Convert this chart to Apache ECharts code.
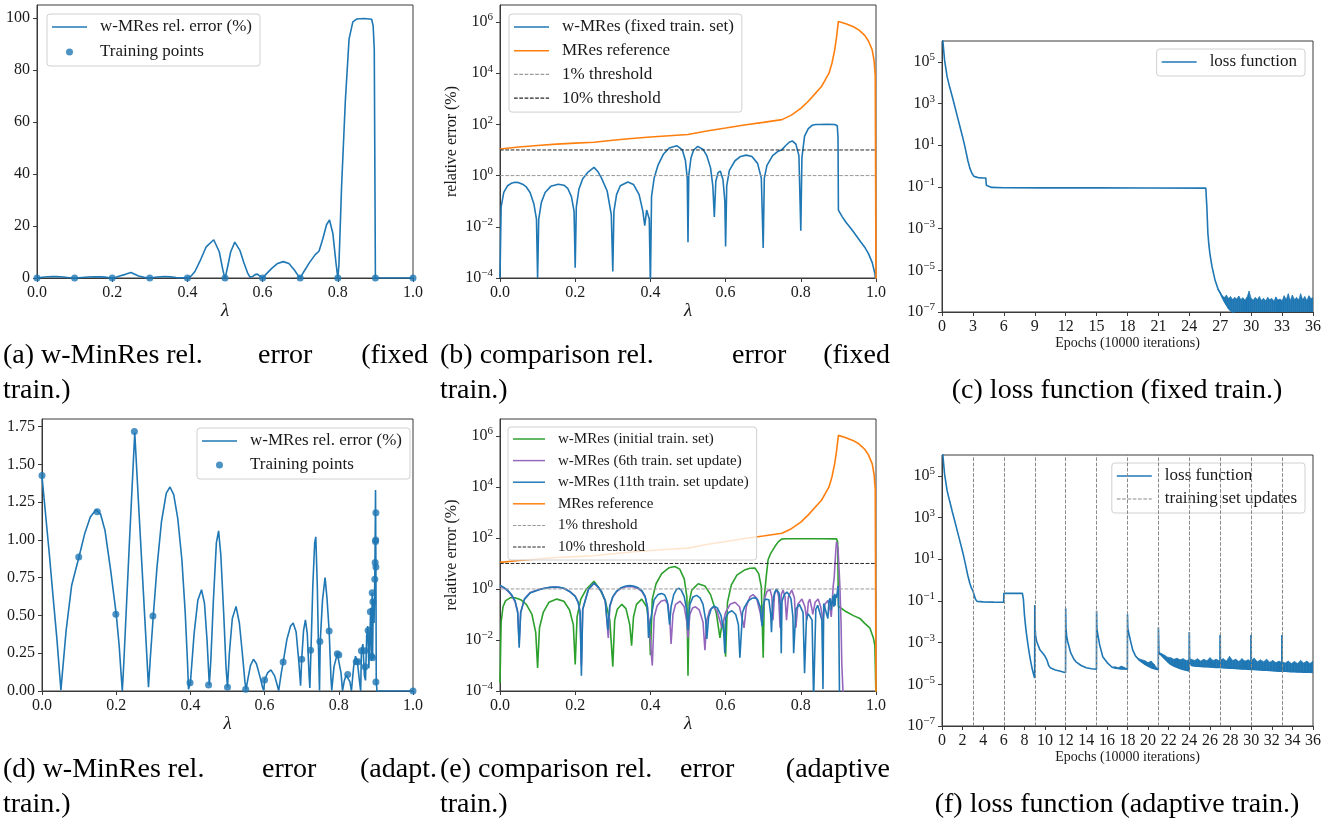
<!DOCTYPE html>
<html>
<head>
<meta charset="utf-8">
<title>w-MinRes relative error and loss function</title>
<script src="https://cdn.jsdelivr.net/npm/echarts@6/dist/echarts.min.js"></script>
<style>
  html, body { margin: 0; padding: 0; background: #fff; }
  #chart { width: 1334px; height: 822px; }
</style>
</head>
<body>
<div id="chart"></div>
<script>
// ---- ticks ----
const lambdaTicks = [0, 0.2, 0.4, 0.6, 0.8, 1.0]
const errTicksA = [0, 20, 40, 60, 80, 100]
const errTicksD = [0, 0.25, 0.5, 0.75, 1.0, 1.25, 1.5, 1.75]
const logTicksErr = [1e-4, 1e-2, 1, 1e2, 1e4, 1e6]
const logTicksLoss = [1e-7, 1e-5, 1e-3, 1e-1, 1e1, 1e3, 1e5]
const epochTicksC = [0, 3, 6, 9, 12, 15, 18, 21, 24, 27, 30, 33, 36]
const epochTicksF = [0, 2, 4, 6, 8, 10, 12, 14, 16, 18, 20, 22, 24, 26, 28, 30, 32, 34, 36]

// ---- fixed training set: w-MRes relative error (%) vs lambda ----
const fixedErr = [
  [0, 0.0001], [0.003, 0.06], [0.01, 0.22], [0.02, 0.4], [0.03, 0.5], [0.04, 0.55], [0.05, 0.53],
  [0.06, 0.46], [0.07, 0.36], [0.08, 0.22], [0.09, 0.08], [0.097, 0.02], [0.1, 0.0001],
  [0.103, 0.02], [0.11, 0.09], [0.12, 0.22], [0.135, 0.38], [0.155, 0.46], [0.17, 0.42], [0.18, 0.32],
  [0.19, 0.15], [0.197, 0.04], [0.2, 0.00025],
  [0.203, 0.06], [0.21, 0.3], [0.22, 0.75], [0.235, 1.4], [0.25, 2.1], [0.26, 1.45], [0.27, 0.8],
  [0.285, 0.25], [0.296, 0.03], [0.3, 0.00018],
  [0.303, 0.04], [0.31, 0.18], [0.32, 0.4], [0.34, 0.56], [0.355, 0.45], [0.37, 0.18], [0.38, 0.04],
  [0.385, 0.011], [0.39, 0.045], [0.393, 0.05], [0.397, 0.02], [0.4, 0.00005],
  [0.403, 0.15], [0.41, 0.8], [0.42, 2.5], [0.435, 7], [0.45, 12], [0.47, 14.7], [0.485, 10],
  [0.493, 4], [0.498, 0.8], [0.5, 0.0025],
  [0.502, 1], [0.508, 5], [0.515, 10], [0.526, 13.8], [0.54, 10.5], [0.55, 6], [0.56, 2], [0.566, 0.4], [0.57, 0.024],
  [0.574, 0.6], [0.58, 1.3], [0.586, 1.5], [0.593, 0.7], [0.598, 0.1], [0.6, 0.0017],
  [0.603, 0.4], [0.61, 1.6], [0.625, 3.8], [0.64, 5.6], [0.655, 6.3], [0.67, 5.6], [0.685, 3], [0.695, 0.8], [0.7, 0.0015],
  [0.703, 0.8], [0.71, 2.5], [0.725, 6], [0.74, 9], [0.75, 10.3], [0.76, 15], [0.77, 20.5], [0.778, 22.3],
  [0.787, 17], [0.795, 6], [0.8, 0.007],
  [0.803, 5], [0.81, 35], [0.82, 68], [0.83, 92], [0.84, 98.5], [0.85, 99.6], [0.87, 99.8], [0.89, 99.5],
  [0.894, 97], [0.897, 88], [0.899, 30], [0.9, 0.045],
  [0.91, 0.025], [0.92, 0.015], [0.935, 0.008], [0.95, 0.004], [0.96, 0.0025], [0.97, 0.0016],
  [0.98, 0.0009], [0.99, 0.0004], [0.997, 0.00015], [1.0, 0.00005]
]
const fixedTrain = [
  [0, 0.0001], [0.1, 0.0001], [0.2, 0.00025], [0.3, 0.00018], [0.4, 0.00005], [0.5, 0.0025],
  [0.6, 0.0017], [0.7, 0.0015], [0.8, 0.007], [0.9, 0.045], [1.0, 0.00005]
]

// ---- MRes reference (%) ----
const mresRef = [
  [0, 11], [0.05, 13], [0.1, 15], [0.15, 17], [0.2, 18.5], [0.25, 20], [0.3, 24], [0.35, 28], [0.4, 32],
  [0.45, 36], [0.5, 40], [0.55, 55], [0.6, 72], [0.65, 95], [0.7, 120], [0.75, 153], [0.775, 230],
  [0.8, 420], [0.82, 800], [0.84, 1700], [0.855, 3000], [0.865, 5500], [0.875, 10000], [0.883, 25000],
  [0.89, 80000], [0.895, 250000], [0.898, 600000], [0.9, 1050000], [0.92, 850000], [0.94, 650000],
  [0.955, 480000], [0.97, 300000], [0.98, 180000], [0.99, 80000], [0.995, 30000], [0.998, 8000], [1.0, 0.00005]
]
const onePctLevel = 1
const tenPctLevel = 10

// ---- adaptive training: final (11th update) error (%) ----
const adaptErr = [
  [0, 1.42], [0.01, 1.16], [0.02, 0.9], [0.03, 0.62], [0.04, 0.35], [0.047, 0.13], [0.051, 0.005],
  [0.055, 0.12], [0.065, 0.4], [0.08, 0.7], [0.1, 0.89], [0.115, 1.04], [0.13, 1.15], [0.145, 1.2],
  [0.158, 1.17], [0.17, 1.06], [0.185, 0.8], [0.2, 0.51], [0.208, 0.3], [0.213, 0.12], [0.2165, 0.0004],
  [0.22, 0.16], [0.235, 0.95], [0.25, 1.71], [0.26, 1.25], [0.27, 0.8], [0.28, 0.35], [0.287, 0.025],
  [0.292, 0.22], [0.3, 0.5], [0.31, 0.82], [0.322, 1.12], [0.335, 1.31], [0.345, 1.35], [0.355, 1.3],
  [0.366, 1.14], [0.377, 0.87], [0.386, 0.52], [0.392, 0.2], [0.395, 0.012],
  [0.4, 0.055], [0.41, 0.38], [0.42, 0.6], [0.43, 0.67], [0.438, 0.58], [0.445, 0.33], [0.451, 0.04],
  [0.455, 0.2], [0.462, 0.6], [0.47, 0.98], [0.476, 1.06], [0.482, 0.9], [0.49, 0.5], [0.496, 0.16], [0.5, 0.024],
  [0.505, 0.25], [0.513, 0.48], [0.523, 0.56], [0.532, 0.45], [0.54, 0.25], [0.547, 0.06], [0.55, 0.011],
  [0.555, 0.08], [0.562, 0.17], [0.57, 0.21], [0.578, 0.18], [0.588, 0.09], [0.595, 0.02], [0.598, 0.003],
  [0.6, 0.073], [0.608, 0.12], [0.617, 0.14], [0.627, 0.1], [0.634, 0.04], [0.638, 0.002],
  [0.645, 0.12], [0.65, 0.19], [0.66, 0.34], [0.67, 0.43], [0.677, 0.45], [0.685, 0.39], [0.692, 0.2], [0.697, 0.035],
  [0.7, 0.21], [0.705, 0.4], [0.71, 0.47], [0.715, 0.38], [0.72, 0.1], [0.722, 0.02],
  [0.725, 0.27], [0.73, 0.7], [0.735, 0.98], [0.738, 1.02], [0.742, 0.7], [0.746, 0.2], [0.748, 0.003],
  [0.75, 0.327], [0.756, 0.6], [0.763, 0.75], [0.768, 0.62], [0.774, 0.397], [0.779, 0.08], [0.781, 0.003],
  [0.787, 0.16], [0.796, 0.247], [0.8, 0.238], [0.806, 0.12], [0.81, 0.0005],
  [0.815, 0.07], [0.82, 0.105], [0.824, 0.11], [0.83, 0.06], [0.834, 0.00005],
  [0.84, 0.16], [0.845, 0.23], [0.85, 0.195], [0.856, 0.06], [0.859, 0.00012],
  [0.861, 0.27], [0.865, 0.31], [0.869, 0.1], [0.872, 0.07], [0.875, 0.35], [0.878, 0.43], [0.881, 0.15],
  [0.884, 0.38], [0.886, 0.55], [0.888, 0.2], [0.89, 0.65], [0.891, 0.22], [0.893, 0.6], [0.895, 0.45],
  [0.897, 0.74], [0.898, 1.0], [0.899, 1.33], [0.9, 0.85], [0.901, 0.06], [0.903, 0.00005], [1.0, 0.00005]
]
const adaptTrain = [
  [0, 1.426], [0.099, 0.887], [0.149, 1.187], [0.199, 0.508], [0.249, 1.717], [0.299, 0.497],
  [0.399, 0.055], [0.449, 0.04], [0.5, 0.024], [0.549, 0.011], [0.6, 0.073], [0.65, 0.192],
  [0.7, 0.21], [0.724, 0.27], [0.749, 0.327], [0.774, 0.397], [0.796, 0.247], [0.8, 0.238],
  [0.824, 0.11], [0.847, 0.194], [0.852, 0.194], [0.861, 0.267], [0.87, 0.267], [0.871, 0.16],
  [0.879, 0.4], [0.882, 0.36], [0.885, 0.525], [0.888, 0.23], [0.89, 0.65], [0.891, 0.22],
  [0.892, 0.59], [0.897, 0.74], [0.898, 0.85], [0.899, 0.99], [0.8995, 1.0], [0.9, 1.18],
  [0.9, 0.82], [0.9, 0.06], [1.0, 0.0]
]

// ---- adaptive training: initial training set (%) ----
const initErr = [
  [0, 0.0002], [0.003, 0.05], [0.008, 0.2], [0.015, 0.35], [0.027, 0.45], [0.04, 0.45], [0.055, 0.38],
  [0.07, 0.25], [0.085, 0.1], [0.095, 0.02], [0.1, 0.0008],
  [0.105, 0.03], [0.115, 0.12], [0.13, 0.3], [0.151, 0.4], [0.17, 0.33], [0.185, 0.15], [0.195, 0.04], [0.2, 0.0011],
  [0.205, 0.08], [0.215, 0.4], [0.23, 1.0], [0.25, 2.0], [0.265, 1.0], [0.28, 0.35], [0.292, 0.06], [0.3, 0.0009],
  [0.305, 0.06], [0.312, 0.16], [0.324, 0.25], [0.335, 0.17], [0.345, 0.04], [0.35, 0.006],
  [0.355, 0.08], [0.363, 0.25], [0.377, 0.4], [0.39, 0.2], [0.397, 0.04], [0.4, 0.0025],
  [0.405, 0.4], [0.415, 1.6], [0.43, 4], [0.45, 6.8], [0.465, 7.6], [0.478, 6], [0.49, 2.5], [0.497, 0.5], [0.5, 0.0004],
  [0.503, 0.3], [0.51, 0.9], [0.527, 1.6], [0.545, 1.3], [0.56, 0.6], [0.575, 0.12], [0.585, 0.012],
  [0.59, 0.04], [0.594, 0.05], [0.598, 0.01], [0.6, 0.0022],
  [0.605, 0.3], [0.615, 1.4], [0.63, 3.5], [0.65, 5.5], [0.665, 6.5], [0.678, 6.6], [0.688, 4], [0.695, 1.2], [0.7, 0.002],
  [0.703, 0.5], [0.708, 3], [0.713, 14], [0.72, 25], [0.731, 46], [0.74, 70], [0.749, 90], [0.76, 93],
  [0.8, 93], [0.85, 93], [0.895, 92], [0.898, 70], [0.9, 0.21],
  [0.92, 0.13], [0.94, 0.09], [0.957, 0.07], [0.97, 0.045], [0.984, 0.029], [0.993, 0.012], [0.997, 0.006], [1.0, 0.00005]
]

// ---- adaptive training: 6th update (%) ----
const sixthErr = [
  [0, 1.3], [0.01, 1.1], [0.02, 0.85], [0.03, 0.58], [0.04, 0.32], [0.047, 0.12], [0.051, 0.008],
  [0.055, 0.12], [0.065, 0.4], [0.08, 0.72], [0.1, 0.92], [0.115, 1.05], [0.13, 1.14], [0.145, 1.18],
  [0.158, 1.15], [0.17, 1.05], [0.185, 0.8], [0.2, 0.52], [0.208, 0.3], [0.213, 0.12], [0.2165, 0.001],
  [0.22, 0.16], [0.235, 0.95], [0.25, 1.65], [0.26, 1.2], [0.27, 0.78], [0.28, 0.33], [0.288, 0.012],
  [0.292, 0.2], [0.3, 0.48], [0.31, 0.78], [0.322, 1.06], [0.335, 1.22], [0.345, 1.25], [0.355, 1.2],
  [0.366, 1.05], [0.377, 0.8], [0.386, 0.48], [0.392, 0.2], [0.396, 0.05], [0.405, 0.001],
  [0.41, 0.08], [0.418, 0.22], [0.428, 0.33], [0.439, 0.37], [0.447, 0.25], [0.452, 0.05], [0.455, 0.007],
  [0.46, 0.1], [0.467, 0.25], [0.479, 0.33], [0.49, 0.2], [0.497, 0.05], [0.5, 0.012],
  [0.505, 0.1], [0.512, 0.18], [0.52, 0.2], [0.53, 0.15], [0.54, 0.05], [0.545, 0.004],
  [0.55, 0.06], [0.558, 0.15], [0.567, 0.2], [0.577, 0.14], [0.586, 0.05], [0.59, 0.03],
  [0.6, 0.12], [0.612, 0.25], [0.625, 0.3], [0.637, 0.2], [0.645, 0.06], [0.649, 0.03],
  [0.655, 0.2], [0.665, 0.5], [0.673, 0.6], [0.682, 0.45], [0.692, 0.12], [0.697, 0.04],
  [0.703, 0.4], [0.71, 0.8], [0.718, 0.95], [0.723, 0.5], [0.726, 0.06],
  [0.73, 0.6], [0.736, 1.0], [0.741, 0.5], [0.745, 0.03],
  [0.748, 0.6], [0.753, 0.9], [0.758, 0.5], [0.762, 0.06],
  [0.767, 0.5], [0.776, 0.9], [0.783, 0.45], [0.787, 0.03],
  [0.792, 0.25], [0.803, 0.4], [0.811, 0.2], [0.816, 0.06],
  [0.82, 0.3], [0.824, 0.4], [0.829, 0.18], [0.832, 0.1],
  [0.838, 0.3], [0.846, 0.4], [0.853, 0.2], [0.859, 0.06],
  [0.864, 0.25], [0.872, 0.35], [0.878, 0.15], [0.881, 0.08],
  [0.884, 0.4], [0.886, 1.2], [0.889, 3], [0.891, 10], [0.893, 30], [0.895, 72], [0.897, 50],
  [0.899, 40], [0.902, 5], [0.904, 1.2], [0.907, 0.05], [0.909, 0.0012], [0.913, 0.00005], [1.0, 0.00005]
]

// ---- loss function, fixed training: [epoch, loss, upper edge of noise] ----
const lossFixed = [
  [0.05, 1.5e6], [0.25, 1.2e5], [0.5, 1.9e4], [0.75, 6e3], [1, 2.1e3], [1.25, 700], [1.5, 230],
  [1.75, 75], [2, 25], [2.25, 7.5], [2.5, 1.9], [2.7, 0.8], [2.9, 0.45], [3.1, 0.32], [3.5, 0.28],
  [4, 0.27], [4.25, 0.27], [4.3, 0.12], [4.4, 0.1], [4.8, 0.095], [6, 0.092], [10, 0.09], [15, 0.09],
  [20, 0.089], [25.6, 0.088], [25.65, 0.03], [25.7, 0.011], [25.75, 2.5e-3], [25.8, 6e-4],
  [25.9, 1.6e-4], [26, 6e-5], [26.2, 1.5e-5], [26.5, 3.3e-6], [26.8, 1.2e-6],
  [27.0, 8e-7, 9e-7], [27.2, 5e-7, 6e-7], [27.4, 3.2e-7, 5e-7], [27.6, 2.2e-7, 6.5e-7],
  [27.8, 1.5e-7, 4.5e-7], [28.0, 1.2e-7, 5.5e-7], [28.2, 1e-7, 4e-7], [28.4, 8e-8, 5e-7],
  [28.6, 6e-8, 4.2e-7], [28.8, 5e-8, 5.8e-7], [29.0, 5e-8, 4e-7], [29.2, 5e-8, 4.8e-7],
  [29.4, 5e-8, 3.8e-7], [29.6, 5e-8, 5.2e-7], [29.8, 5e-8, 1e-6], [30.0, 5e-8, 4.5e-7],
  [30.2, 5e-8, 3.8e-7], [30.4, 5e-8, 5e-7], [30.6, 5e-8, 4e-7], [30.8, 5e-8, 5.5e-7],
  [31.0, 5e-8, 3.6e-7], [31.2, 5e-8, 4.6e-7], [31.4, 5e-8, 3.5e-7], [31.6, 5e-8, 5e-7],
  [31.8, 5e-8, 4e-7], [32.0, 5e-8, 4.4e-7], [32.2, 5e-8, 3.4e-7], [32.4, 5e-8, 5.3e-7],
  [32.6, 5e-8, 3.8e-7], [32.8, 5e-8, 4.2e-7], [33.0, 5e-8, 3.5e-7], [33.2, 5e-8, 6e-7],
  [33.4, 5e-8, 4e-7], [33.6, 5e-8, 7.5e-7], [33.8, 5e-8, 3.6e-7], [34.0, 5e-8, 6.5e-7],
  [34.2, 5e-8, 4e-7], [34.4, 5e-8, 5e-7], [34.6, 5e-8, 3.8e-7], [34.8, 5e-8, 7.5e-7],
  [35.0, 5e-8, 4e-7], [35.2, 5e-8, 5.5e-7], [35.4, 5e-8, 3.6e-7], [35.6, 5e-8, 6e-7],
  [35.8, 5e-8, 4.4e-7], [36.0, 5e-8, 5e-7]
]

// ---- loss function, adaptive training: [epoch, loss, upper edge of noise] ----
const lossAdapt = [
  [0.05, 1.5e6], [0.25, 1.2e5], [0.5, 1.9e4], [0.75, 6e3], [1, 1.9e3], [1.25, 650], [1.5, 210],
  [1.75, 70], [2, 23], [2.25, 6.5], [2.5, 1.7], [2.7, 0.7], [2.85, 0.42], [3.0, 0.3], [3.15, 0.26],
  [3.2, 0.25], [3.25, 0.12], [3.4, 0.095], [4, 0.09], [5, 0.088], [5.98, 0.087], [6.0, 0.23],
  [7.0, 0.23], [7.8, 0.23], [7.9, 0.12], [8.0, 0.021], [8.15, 4e-3], [8.3, 1.1e-3], [8.45, 3.5e-4],
  [8.6, 1.3e-4], [8.75, 5.5e-5], [8.9, 2.8e-5], [8.99, 2e-5],
  [9.0, 0.063], [9.03, 5e-3], [9.1, 1.8e-3], [9.2, 1.1e-3], [9.5, 4.5e-4], [9.8, 3e-4], [10, 2.2e-4],
  [10.2, 1.4e-4], [10.35, 8e-5], [10.5, 6.3e-5], [11, 4.9e-5], [11.5, 4.2e-5], [11.99, 3.6e-5],
  [12.0, 0.044], [12.03, 5e-3], [12.1, 2e-3], [12.2, 1.1e-3], [12.5, 3.1e-4], [12.8, 1.6e-4], [13, 1.2e-4],
  [13.5, 8e-5], [14, 6.2e-5], [14.5, 5.6e-5], [14.99, 5.3e-5],
  [15.0, 0.034], [15.03, 5e-3], [15.1, 2.8e-3], [15.3, 7.8e-4], [15.6, 2.1e-4], [16.1, 1e-4], [16.5, 6.6e-5],
  [16.8, 6e-5, 7e-5], [17.1, 5.7e-5, 6.3e-5], [17.4, 5.5e-5, 7.5e-5], [17.7, 5.4e-5, 6.5e-5], [17.99, 5.3e-5],
  [18.0, 0.023], [18.03, 5e-3], [18.2, 1.9e-3], [18.5, 4.5e-4], [18.8, 2.2e-4],
  [19.1, 1.5e-4, 1.7e-4], [19.4, 1.15e-4, 1.5e-4], [19.7, 9e-5, 1.35e-4], [20.0, 7.5e-5, 1.1e-4],
  [20.3, 6.3e-5, 1.3e-4], [20.6, 5.6e-5, 9e-5], [20.99, 5e-5],
  [21.0, 5.5e-3], [21.05, 3.3e-4], [21.3, 2.4e-4, 3e-4], [21.6, 1.7e-4, 2.5e-4], [21.9, 1.2e-4, 2e-4],
  [22.2, 9e-5, 1.9e-4], [22.5, 7.5e-5, 1.6e-4], [22.8, 6.5e-5, 1.8e-4], [23.1, 5.7e-5, 1.5e-4],
  [23.4, 5.2e-5, 1.7e-4], [23.7, 4.8e-5, 1.4e-4], [23.99, 4.4e-5, 1.5e-4],
  [24.0, 3.2e-3], [24.03, 1.6e-4], [24.2, 8e-5, 1.6e-4], [24.5, 7.6e-5, 1.4e-4], [24.8, 7.4e-5, 1.7e-4],
  [25.1, 7.2e-5, 1.3e-4], [25.4, 7e-5, 1.6e-4], [25.7, 6.9e-5, 1.35e-4], [26.0, 6.8e-5, 1.9e-4],
  [26.3, 6.6e-5, 1.4e-4], [26.6, 6.5e-5, 1.6e-4], [26.98, 6.4e-5, 1.3e-4],
  [27.0, 2.3e-3], [27.02, 6.4e-5, 1.5e-4], [27.3, 6.2e-5, 1.7e-4], [27.6, 6.1e-5, 1.3e-4],
  [27.9, 6e-5, 2.2e-4], [28.2, 5.9e-5, 1.4e-4], [28.5, 5.8e-5, 1.6e-4], [28.8, 5.6e-5, 1.25e-4],
  [29.1, 5.5e-5, 1.7e-4], [29.4, 5.4e-5, 1.3e-4], [29.7, 5.3e-5, 1.5e-4], [29.98, 5.2e-5, 1.3e-4],
  [30.0, 2.3e-3], [30.02, 5.2e-5, 1.4e-4], [30.3, 5.1e-5, 1.8e-4], [30.6, 5e-5, 1.2e-4],
  [30.9, 4.9e-5, 1.5e-4], [31.2, 4.8e-5, 1.2e-4], [31.5, 4.7e-5, 1.6e-4], [31.8, 4.6e-5, 1.15e-4],
  [32.1, 4.5e-5, 1.4e-4], [32.4, 4.4e-5, 1.1e-4], [32.7, 4.3e-5, 1.3e-4], [32.98, 4.3e-5, 1.1e-4],
  [33.0, 2.3e-3], [33.02, 4.2e-5, 1.2e-4], [33.3, 4.2e-5, 1.05e-4], [33.6, 4.1e-5, 1.3e-4],
  [33.9, 4e-5, 1e-4], [34.2, 4e-5, 1.25e-4], [34.5, 3.9e-5, 1e-4], [34.8, 3.9e-5, 1.4e-4],
  [35.1, 3.8e-5, 1.05e-4], [35.4, 3.8e-5, 1.3e-4], [35.7, 3.8e-5, 1e-4], [36.0, 3.7e-5, 1.3e-4]
]
const updateEpochs = [3, 6, 9, 12, 15, 18, 21, 24, 27, 30, 33]

// ---- styling ----
const FONT = '"Liberation Serif", "DejaVu Serif", serif'
const INK = '#1a1a1a'
const FRAME = '#3a3a3a'
const BLUE = '#1f77b4', ORANGE = '#ff7f0e', GREEN = '#2ca02c', PURPLE = '#9467bd'
const GRAY1 = '#9a9a9a', GRAY10 = '#262626', GRAYUPD = '#8a8a8a'

function dashPath(total, on, off, h) {
  let d = ''
  for (let x = 0; x < total - 0.01; x += on + off) {
    const w = Math.min(on, total - x)
    d += `M${x},0h${w}v${h}h${-w}z`
  }
  return 'path://' + d
}
const SOLID = 'path://M0,0h35v1.6h-35z'
const DASH = dashPath(35, 3.7, 1.6, 1.1)

function powLabel(v) {
  const e = Math.round(Math.log10(v))
  return '{b|10}{s|' + (e < 0 ? '\u2212' + (-e) : e) + '}'
}
const powRich = {
  b: { fontFamily: FONT, fontSize: 16, color: INK, lineHeight: 20 },
  s: { fontFamily: FONT, fontSize: 11, color: INK, lineHeight: 12, verticalAlign: 'top' }
}

function axisBase(gridIndex, ticks, formatter, extra) {
  return Object.assign({
    gridIndex,
    axisLine: { show: true, onZero: false, lineStyle: { color: FRAME, width: 1 } },
    axisTick: { show: true, length: 4, customValues: ticks, lineStyle: { color: FRAME } },
    axisLabel: { customValues: ticks, formatter, fontFamily: FONT, fontSize: 16, color: INK, margin: 7, hideOverlap: false },
    splitLine: { show: false },
    minorTick: { show: false }
  }, extra)
}
const lamX = (g) => axisBase(g, lambdaTicks, v => v.toFixed(1), {
  type: 'value', min: 0, max: 1, interval: 0.2,
  name: '\u03bb', nameLocation: 'middle', nameGap: 19,
  nameTextStyle: { fontFamily: FONT, fontSize: 19, fontStyle: 'italic', color: INK }
})
const epochX = (g, ticks, step) => axisBase(g, ticks, v => String(v), {
  type: 'value', min: 0, max: 36, interval: step,
  name: 'Epochs (10000 iterations)', nameLocation: 'middle', nameGap: 23,
  nameTextStyle: { fontFamily: FONT, fontSize: 14, color: INK }
})
const errLogY = (g) => {
  const a = axisBase(g, logTicksErr, powLabel, {
    type: 'log', min: 1e-4, max: 4.6e6,
    name: 'relative error (%)', nameLocation: 'middle', nameGap: 40, nameRotate: 90,
    nameTextStyle: { fontFamily: FONT, fontSize: 16, color: INK }
  })
  a.axisLabel.rich = powRich
  return a
}
const lossLogY = (g) => {
  const a = axisBase(g, logTicksLoss, powLabel, { type: 'log', min: 1e-7, max: 1e6 })
  a.axisLabel.rich = powRich
  return a
}

const grids = [
  { left: 37, top: 5, width: 376, height: 273 },
  { left: 500, top: 5, width: 376, height: 273 },
  { left: 942, top: 41, width: 371, height: 271 },
  { left: 42, top: 419, width: 371, height: 272 },
  { left: 500, top: 419, width: 376, height: 272 },
  { left: 942, top: 455, width: 371, height: 271 }
].map(g => Object.assign(g, { show: true, borderColor: FRAME, borderWidth: 1, backgroundColor: 'transparent', outerBoundsMode: 'none' }))

function line(name, data, color, xi, extra) {
  return Object.assign({
    type: 'line', name, data, xAxisIndex: xi, yAxisIndex: xi,
    symbol: 'none', showSymbol: false, clip: true, silent: true,
    color, lineStyle: { color, width: 1.6 }
  }, extra)
}
function dashed(name, level, color, xi) {
  return line(name, [[0, level], [1, level]], color, xi, { lineStyle: { color, width: 1, type: [3.7, 1.6] } })
}
function dots(name, data, xi) {
  return { type: 'scatter', name, data, xAxisIndex: xi, yAxisIndex: xi, symbolSize: 7, color: BLUE, itemStyle: { color: BLUE }, silent: true, clip: false }
}
// noisy part of a loss curve: filled band between the loss and the upper edge of its oscillation
function noiseBand(rows, xi) {
  const data = rows.map(r => [r[0], r[1], r.length > 2 ? r[2] : r[1]])
  return {
    type: 'custom', name: 'loss noise', xAxisIndex: xi, yAxisIndex: xi, data, clip: true, silent: true,
    encode: { x: 0, y: 2 },
    renderItem(params, api) {
      const i = params.dataIndex
      const cur = data[i], next = data[i + 1]
      if (!next || (cur[2] <= cur[1] && next[2] <= next[1])) return null
      return {
        type: 'polygon',
        shape: { points: [
          api.coord([cur[0], cur[1]]), api.coord([next[0], next[1]]),
          api.coord([next[0], next[2]]), api.coord([cur[0], cur[2]])
        ] },
        style: { fill: BLUE, stroke: BLUE, lineWidth: 0.6 }
      }
    }
  }
}

const series = [
  // (a)
  line('w-MRes rel. error (%)', fixedErr, BLUE, 0),
  dots('Training points', fixedTrain, 0),
  // (b)
  line('w-MRes (fixed train. set)', fixedErr, BLUE, 1),
  line('MRes reference', mresRef, ORANGE, 1),
  dashed('1% threshold', onePctLevel, GRAY1, 1),
  dashed('10% threshold', tenPctLevel, GRAY10, 1),
  // (c)
  line('loss function', lossFixed.map(r => [r[0], r[1]]), BLUE, 2),
  noiseBand(lossFixed, 2),
  // (d)
  line('w-MRes rel. error (%)', adaptErr, BLUE, 3),
  dots('Training points', adaptTrain, 3),
  // (e)
  line('w-MRes (initial train. set)', initErr, GREEN, 4),
  line('w-MRes (6th train. set update)', sixthErr, PURPLE, 4),
  line('w-MRes (11th train. set update)', adaptErr, BLUE, 4),
  line('MRes reference', mresRef, ORANGE, 4),
  dashed('1% threshold', onePctLevel, GRAY1, 4),
  dashed('10% threshold', tenPctLevel, GRAY10, 4),
  // (f)
  line('loss function', lossAdapt.map(r => [r[0], r[1]]), BLUE, 5, {
    markLine: {
      silent: true, symbol: ['none', 'none'], label: { show: false },
      lineStyle: { color: GRAYUPD, width: 1, type: [3.7, 1.6] },
      emphasis: { disabled: true },
      data: updateEpochs.map(e => ({ xAxis: e }))
    }
  }),
  noiseBand(lossAdapt, 5),
  line('training set updates', [], GRAYUPD, 5, { lineStyle: { color: GRAYUPD, width: 1, type: [3.7, 1.6] } })
]

function legendBox(pos, items, fontSize, lineHeight, gap, itemWidth) {
  return Object.assign({
    orient: 'vertical', itemWidth: itemWidth || 35, itemHeight: 7, itemGap: gap,
    padding: [3, 8, 4, 5], backgroundColor: 'rgba(255,255,255,0.8)',
    borderColor: '#d0d0d0', borderWidth: 1, borderRadius: 3,
    selectedMode: false, symbolKeepAspect: true,
    itemStyle: { borderWidth: 0 },
    textStyle: { fontFamily: FONT, fontSize, color: INK, lineHeight, padding: [0, 0, 0, 8] },
    data: items.map(([name, icon]) => ({ name, icon }))
  }, pos)
}

const legends = [
  legendBox({ left: 47, top: 14 }, [['w-MRes rel. error (%)', SOLID], ['Training points', 'circle']], 17, 20, 5),
  legendBox({ left: 509, top: 14 }, [
    ['w-MRes (fixed train. set)', SOLID], ['MRes reference', SOLID],
    ['1% threshold', DASH], ['10% threshold', DASH]], 17, 20, 3.7),
  legendBox({ right: 29, top: 49 }, [['loss function', SOLID]], 17, 20, 5),
  legendBox({ left: 197, top: 428 }, [['w-MRes rel. error (%)', SOLID], ['Training points', 'circle']], 17, 20, 4),
  legendBox({ left: 508, top: 427 }, [
    ['w-MRes (initial train. set)', SOLID], ['w-MRes (6th train. set update)', SOLID],
    ['w-MRes (11th train. set update)', SOLID], ['MRes reference', SOLID],
    ['1% threshold', DASH], ['10% threshold', DASH]], 15, 18, 3.6, 32),
  legendBox({ right: 29, top: 463 }, [['loss function', SOLID], ['training set updates', DASH]], 17, 20, 3)
]

// ---- sub-figure captions ----
const CAP_FONT = '28px "Liberation Serif", "DejaVu Serif", serif'
const captions = [
  [3, 356, '(a) w-MinRes rel.', 'left'], [258, 356, 'error', 'left'], [428, 356, '(fixed', 'right'],
  [440, 356, '(b) comparison rel.', 'left'], [732, 356, 'error', 'left'], [890, 356, '(fixed', 'right'],
  [3, 391, 'train.)', 'left'], [440, 391, 'train.)', 'left'],
  [1117, 391, '(c) loss function (fixed train.)', 'center'],
  [3, 770, '(d) w-MinRes rel.', 'left'], [262, 770, 'error', 'left'], [437, 770, '(adapt.', 'right'],
  [440, 770, '(e) comparison rel.', 'left'], [680, 770, 'error', 'left'], [890, 770, '(adaptive', 'right'],
  [3, 805, 'train.)', 'left'], [440, 805, 'train.)', 'left'],
  [1117, 805, '(f) loss function (adaptive train.)', 'center']
]

const chart = echarts.init(document.getElementById('chart'), null, { renderer: 'canvas' })
chart.setOption({
  animation: false,
  backgroundColor: '#ffffff',
  tooltip: { show: false },
  grid: grids,
  xAxis: [lamX(0), lamX(1), epochX(2, epochTicksC, 3), lamX(3), lamX(4), epochX(5, epochTicksF, 2)],
  yAxis: [
    axisBase(0, errTicksA, v => String(v), { type: 'value', min: 0, max: 105 }),
    errLogY(1),
    lossLogY(2),
    axisBase(3, errTicksD, v => v.toFixed(2), { type: 'value', min: 0, max: 1.8 }),
    errLogY(4),
    lossLogY(5)
  ],
  legend: legends,
  series,
  graphic: captions.map(([x, y, text, align]) => ({
    type: 'text', x, y, silent: true,
    style: { text, font: CAP_FONT, fill: '#000', textAlign: align, textVerticalAlign: 'middle' }
  }))
})
window.addEventListener('resize', () => chart.resize())
</script>
</body>
</html>
